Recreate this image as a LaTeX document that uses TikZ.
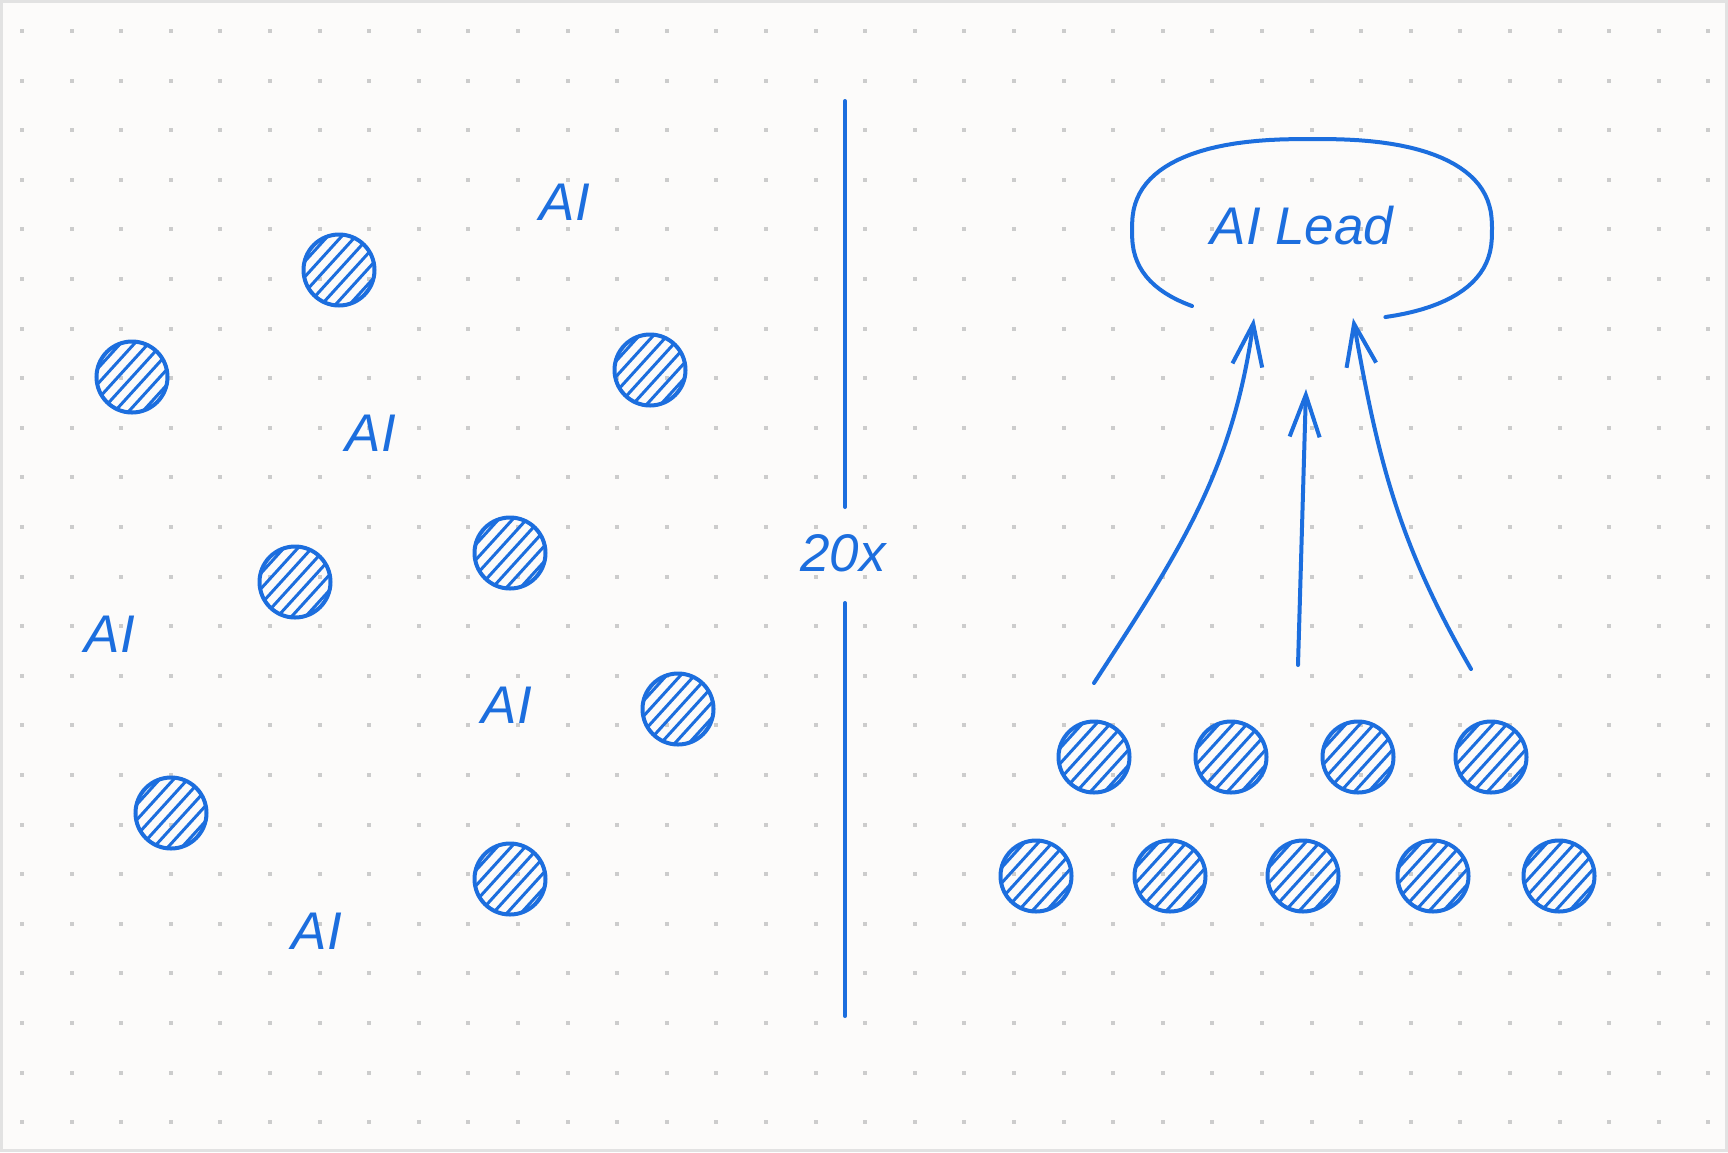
\documentclass[tikz,border=0pt]{standalone}
\usepackage{fontspec}
\setmainfont{Liberation Sans}
\usetikzlibrary{arrows.meta}
\usetikzlibrary{positioning}

\definecolor{ink}{RGB}{28,110,222}
\definecolor{paper}{RGB}{252,251,250}
\definecolor{griddot}{RGB}{204,204,204}
\definecolor{frame}{RGB}{226,226,226}

\tikzset{
    hand/.style={font=\fontsize{53}{60}\selectfont\itshape, text=ink, inner sep=0pt},
    agent/.style={circle, draw=ink, line width=4pt, minimum size=71pt, inner sep=0pt,
        path picture={
            \foreach \k in {-3,...,3}
                \draw[ink, line width=3pt]
                    ([shift={(\k*14-40,-44)}]path picture bounding box.center) -- ++(80,88);
        }},
    stroke/.style={draw=ink, line width=4pt, line cap=round},
    report/.style={stroke, -{Straight Barb[length=42pt, width=30pt, line width=4pt]}}
}

\begin{document}
\begin{tikzpicture}[x=1pt, y=1pt]
    \useasboundingbox (0,0) rectangle (1728,-1152);
    \fill[paper] (0,0) rectangle (1728,-1152);
    \draw[frame, line width=3pt] (1.5,-1.5) rectangle (1726.5,-1150.5);
    \foreach \i in {0,...,34}
        \foreach \j in {0,...,22}
            \fill[griddot] (20+49.6*\i, -29-49.6*\j) rectangle ++(4,-4);

    % scattered agents
    \node[agent] (d1) at (339,-270) {};
    \node[agent] (d2) at (132,-377) {};
    \node[agent] (d3) at (650,-370) {};
    \node[agent] (d4) at (510,-553) {};
    \node[agent] (d5) at (295,-582) {};
    \node[agent] (d6) at (678,-709) {};
    \node[agent] (d7) at (171,-813) {};
    \node[agent] (d8) at (510,-879) {};

    \node[hand] (ai1) at (565,-202) {AI};
    \node[hand] (ai2) at (371,-433) {AI};
    \node[hand] (ai3) at (110,-634) {AI};
    \node[hand] (ai4) at (507,-705) {AI};
    \node[hand] (ai5) at (317,-931) {AI};

    % divider
    \coordinate (divtop) at (845,-101);
    \coordinate (divup) at (845,-507);
    \coordinate (divdown) at (845,-603);
    \coordinate (divbot) at (845,-1016);
    \draw[stroke] (divtop) -- (divup);
    \draw[stroke] (divdown) -- (divbot);
    \node[hand] (times) at (843,-553) {20x};

    % lead
    \node[hand] (lead) at (1302,-226) {AI Lead};
    \draw[stroke] plot[domain=-71:233, samples=90]
        ({1312+180*sign(cos(\x))*(abs(cos(\x))+0.0001)^0.8},
         {-230+91*sign(sin(\x))*(abs(sin(\x))+0.0001)^0.8});

    % team
    \node[agent] (r1) at (1094,-757) {};
    \node[agent] (r2) at (1231,-757) {};
    \node[agent] (r3) at (1358,-757) {};
    \node[agent] (r4) at (1491,-757) {};
    \node[agent] (s1) at (1036,-876) {};
    \node[agent] (s2) at (1170,-876) {};
    \node[agent] (s3) at (1303,-876) {};
    \node[agent] (s4) at (1433,-876) {};
    \node[agent] (s5) at (1559,-876) {};

    \coordinate (up1) at (1094,-683);
    \coordinate (up2) at (1298,-665);
    \coordinate (up3) at (1471,-669);
    \coordinate (in1) at (1254,-318);
    \coordinate (in2) at (1306,-389);
    \coordinate (in3) at (1353,-318);
    \draw[report] (up1) to[out=57, in=-98] (in1);
    \draw[report] (up2) -- (in2);
    \draw[report] (up3) to[out=120, in=-80] (in3);
\end{tikzpicture}
\end{document}
